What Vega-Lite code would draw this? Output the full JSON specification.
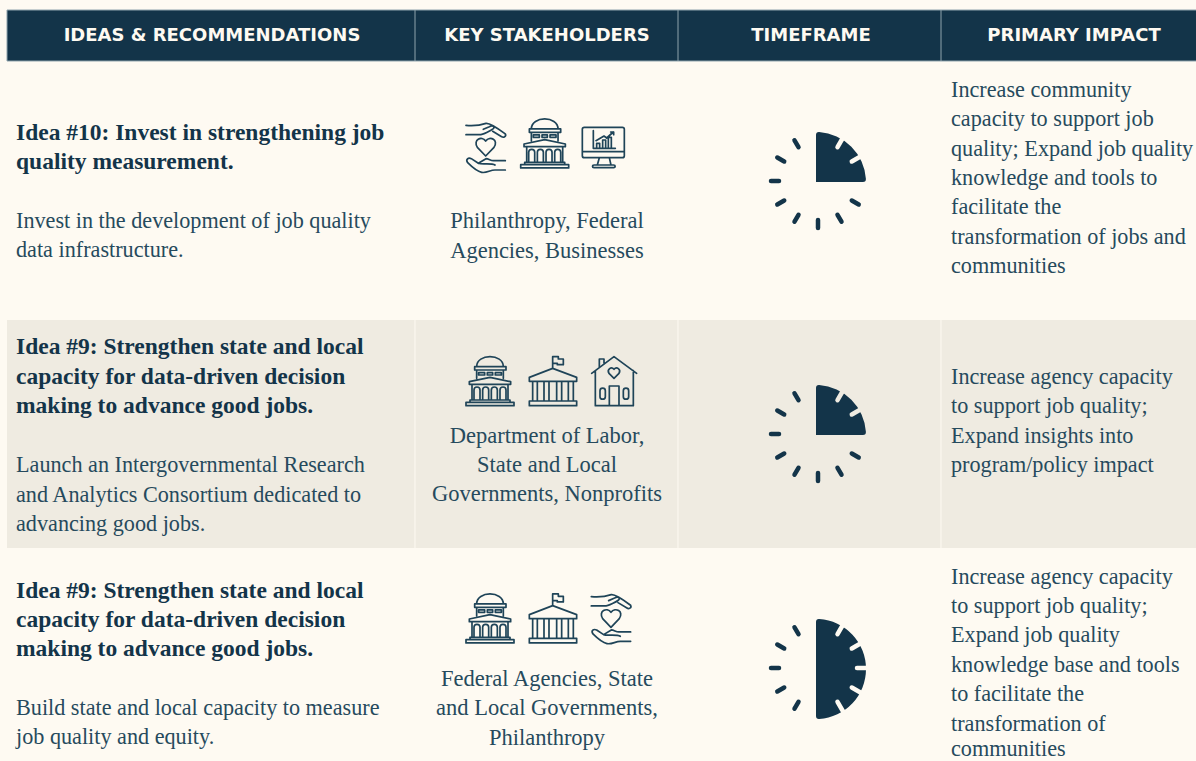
{
"$schema":"https://vega.github.io/schema/vega-lite/v6.json",
"width":1196,"height":761,"padding":0,"autosize":{"type":"none"},
"background":"#fefaf2","view":{"stroke":null},
"datasets":{
"cells":[
{"x":7,"x2":1196,"y":10,"y2":61,"tone":"ink"},
{"x":7,"x2":1196,"y":320,"y2":548,"tone":"shade"}
],
"grid":[
{"x":7,"x2":1196,"y":10,"y2":10,"tone":"edge"},
{"x":7,"x2":1196,"y":61,"y2":61,"tone":"edge"},
{"x":7,"x2":7,"y":10,"y2":61,"tone":"edge"},
{"x":415,"x2":415,"y":10,"y2":61,"tone":"edge"},
{"x":678,"x2":678,"y":10,"y2":61,"tone":"edge"},
{"x":941,"x2":941,"y":10,"y2":61,"tone":"edge"},
{"x":415,"x2":415,"y":320,"y2":548,"tone":"paper"},
{"x":678,"x2":678,"y":320,"y2":548,"tone":"paper"},
{"x":941,"x2":941,"y":320,"y2":548,"tone":"paper"}
],
"wedges":[
{"x":816,"y":182,"start":0,"end":90},
{"x":816,"y":435,"start":0,"end":90},
{"x":816,"y":669,"start":0,"end":180}
],
"ticks":[
{"x":851.8,"y":200.5,"x2":858.7,"y2":204.5,"tone":"ink"},
{"x":837.5,"y":214.8,"x2":841.5,"y2":221.7,"tone":"ink"},
{"x":818,"y":220,"x2":818,"y2":228,"tone":"ink"},
{"x":798.5,"y":214.8,"x2":794.5,"y2":221.7,"tone":"ink"},
{"x":784.2,"y":200.5,"x2":777.3,"y2":204.5,"tone":"ink"},
{"x":779,"y":181,"x2":771,"y2":181,"tone":"ink"},
{"x":784.2,"y":161.5,"x2":777.3,"y2":157.5,"tone":"ink"},
{"x":798.5,"y":147.2,"x2":794.5,"y2":140.3,"tone":"ink"},
{"x":837.5,"y":147.2,"x2":846,"y2":132.5,"tone":"paper"},
{"x":851.8,"y":161.5,"x2":866.5,"y2":153,"tone":"paper"},
{"x":851.8,"y":453.5,"x2":858.7,"y2":457.5,"tone":"ink"},
{"x":837.5,"y":467.8,"x2":841.5,"y2":474.7,"tone":"ink"},
{"x":818,"y":473,"x2":818,"y2":481,"tone":"ink"},
{"x":798.5,"y":467.8,"x2":794.5,"y2":474.7,"tone":"ink"},
{"x":784.2,"y":453.5,"x2":777.3,"y2":457.5,"tone":"ink"},
{"x":779,"y":434,"x2":771,"y2":434,"tone":"ink"},
{"x":784.2,"y":414.5,"x2":777.3,"y2":410.5,"tone":"ink"},
{"x":798.5,"y":400.2,"x2":794.5,"y2":393.3,"tone":"ink"},
{"x":837.5,"y":400.2,"x2":846,"y2":385.5,"tone":"shade"},
{"x":851.8,"y":414.5,"x2":866.5,"y2":406,"tone":"shade"},
{"x":798.5,"y":701.8,"x2":794.5,"y2":708.7,"tone":"ink"},
{"x":784.2,"y":687.5,"x2":777.3,"y2":691.5,"tone":"ink"},
{"x":779,"y":668,"x2":771,"y2":668,"tone":"ink"},
{"x":784.2,"y":648.5,"x2":777.3,"y2":644.5,"tone":"ink"},
{"x":798.5,"y":634.2,"x2":794.5,"y2":627.3,"tone":"ink"},
{"x":837.5,"y":634.2,"x2":846,"y2":619.5,"tone":"paper"},
{"x":851.8,"y":648.5,"x2":866.5,"y2":640,"tone":"paper"},
{"x":857,"y":668,"x2":874,"y2":668,"tone":"paper"},
{"x":851.8,"y":687.5,"x2":866.5,"y2":696,"tone":"paper"},
{"x":837.5,"y":701.8,"x2":846,"y2":716.5,"tone":"paper"}
],
"icons":[
{"icon":"hands","x":450,"y":110},
{"icon":"capitol","x":504.7,"y":112.3},
{"icon":"monitor","x":450,"y":110},
{"icon":"capitol","x":450,"y":350},
{"icon":"civic","x":450,"y":350},
{"icon":"house","x":450,"y":350},
{"icon":"capitol","x":450,"y":587.3},
{"icon":"civic","x":450,"y":587.3},
{"icon":"hands","x":575.3,"y":581.3}
],
"headers":[
{"x":212,"y":41,"text":"IDEAS & RECOMMENDATIONS"},
{"x":547,"y":41,"text":"KEY STAKEHOLDERS"},
{"x":811,"y":41,"text":"TIMEFRAME"},
{"x":1074,"y":41,"text":"PRIMARY IMPACT"}
],
"bold":[
{"x":16,"y":140,"text":"Idea #10: Invest in strengthening job"},
{"x":16,"y":169,"text":"quality measurement."},
{"x":16,"y":354,"text":"Idea #9: Strengthen state and local"},
{"x":16,"y":384,"text":"capacity for data-driven decision"},
{"x":16,"y":413,"text":"making to advance good jobs."},
{"x":16,"y":598,"text":"Idea #9: Strengthen state and local"},
{"x":16,"y":627,"text":"capacity for data-driven decision"},
{"x":16,"y":656,"text":"making to advance good jobs."}
],
"body":[
{"x":16,"y":228,"text":"Invest in the development of job quality"},
{"x":16,"y":257,"text":"data infrastructure."},
{"x":16,"y":472,"text":"Launch an Intergovernmental Research"},
{"x":16,"y":502,"text":"and Analytics Consortium dedicated to"},
{"x":16,"y":531,"text":"advancing good jobs."},
{"x":16,"y":715,"text":"Build state and local capacity to measure"},
{"x":16,"y":744,"text":"job quality and equity."},
{"x":951,"y":97,"text":"Increase community"},
{"x":951,"y":126,"text":"capacity to support job"},
{"x":951,"y":156,"text":"quality; Expand job quality"},
{"x":951,"y":185,"text":"knowledge and tools to"},
{"x":951,"y":214,"text":"facilitate the"},
{"x":951,"y":244,"text":"transformation of jobs and"},
{"x":951,"y":273,"text":"communities"},
{"x":951,"y":384,"text":"Increase agency capacity"},
{"x":951,"y":413,"text":"to support job quality;"},
{"x":951,"y":443,"text":"Expand insights into"},
{"x":951,"y":472,"text":"program/policy impact"},
{"x":951,"y":584,"text":"Increase agency capacity"},
{"x":951,"y":613,"text":"to support job quality;"},
{"x":951,"y":642,"text":"Expand job quality"},
{"x":951,"y":672,"text":"knowledge base and tools"},
{"x":951,"y":701,"text":"to facilitate the"},
{"x":951,"y":731,"text":"transformation of"},
{"x":951,"y":756,"text":"communities"}
],
"stake":[
{"x":547,"y":228,"text":"Philanthropy, Federal"},
{"x":547,"y":258,"text":"Agencies, Businesses"},
{"x":547,"y":443,"text":"Department of Labor,"},
{"x":547,"y":472,"text":"State and Local"},
{"x":547,"y":501,"text":"Governments, Nonprofits"},
{"x":547,"y":686,"text":"Federal Agencies, State"},
{"x":547,"y":715,"text":"and Local Governments,"},
{"x":547,"y":745,"text":"Philanthropy"}
]
},
"encoding":{
"x":{"field":"x","type":"quantitative","axis":null,"scale":{"domain":[0,1196],"nice":false,"zero":false}},
"y":{"field":"y","type":"quantitative","axis":null,"scale":{"domain":[761,0],"nice":false,"zero":false}}
},
"layer":[
{"data":{"name":"cells"},"mark":{"type":"rect"},
 "encoding":{"x2":{"field":"x2"},"y2":{"field":"y2"},
 "color":{"field":"tone","type":"nominal","legend":null,"scale":{"domain":["ink","shade","paper","edge"],"range":["#133449","#efebe1","#fefaf2","#8fa3ad"]}}}},
{"data":{"name":"grid"},"mark":{"type":"rule","strokeWidth":1},
 "encoding":{"x2":{"field":"x2"},"y2":{"field":"y2"},
 "color":{"field":"tone","type":"nominal","legend":null,"scale":{"domain":["ink","shade","paper","edge"],"range":["#133449","#efebe1","#fefaf2","#8fa3ad"]}}}},
{"data":{"name":"wedges"},"mark":{"type":"arc","radius":50,"cornerRadius":3,"fill":"#133449"},
 "encoding":{"theta":{"field":"start","type":"quantitative","stack":null,"scale":{"domain":[0,360]}},"theta2":{"field":"end"}}},
{"data":{"name":"ticks"},"mark":{"type":"rule","strokeWidth":4.5,"strokeCap":"round"},
 "encoding":{"x2":{"field":"x2"},"y2":{"field":"y2"},
 "color":{"field":"tone","type":"nominal","legend":null,"scale":{"domain":["ink","shade","paper","edge"],"range":["#133449","#efebe1","#fefaf2","#8fa3ad"]}}}},
{"data":{"name":"icons"},"mark":{"type":"point","filled":false,"size":0.4444,"stroke":"#1f4458","strokeWidth":1.7,"opacity":1,"strokeJoin":"round","strokeCap":"round"},
 "encoding":{"shape":{"field":"icon","type":"nominal","legend":null,"scale":{"domain":["capitol","civic","house","hands","monitor"],"range":[
 "M80,50C80,10 160,10 160,50M74,50H168V60H74ZM80,60V85M160,60V85M86,68H104V75H86ZM112,68H128V75H112ZM136,68H154V75H136ZM58,95L120,82L182,95V103H58ZM66,103V150M174,103V150M72,150V120C72,108 90,108 90,120V150M98,150V120C98,108 116,108 116,120V150M124,150V120C124,108 142,108 142,120V150M150,150V120C150,108 168,108 168,120V150M60,150H180V157H60ZM48,157H192V167H48Z",
 "M308,55V20H325V27H340V44H322V40H308M238,82L308,55L380,82V94H238ZM248,94V153M262,94V153M282,94V153M297,94V153M320,94V153M335,94V153M355,94V153M370,94V153M238,153H380V167H238Z",
 "M425,70L492,20L560,70M448,50V27H462V38M436,62V167H550V62M478,167V108H507V167M450,122C450,112 466,112 466,122V140C466,150 450,150 450,140ZM520,122C520,112 536,112 536,122V140C536,150 520,150 520,140ZM492,85L477,70C470,58 484,48 492,58C500,48 514,58 507,70Z",
 "M48,46C70,48 90,46 108,40C122,38 150,60 166,72C170,80 160,84 155,80L128,64M48,74H88C100,74 125,60 130,56C136,50 128,44 118,50L100,58M107,138L82,112C68,90 95,76 107,93C120,76 147,90 132,112ZM166,152H130C122,152 116,146 108,146L85,160M85,160C95,164 125,158 135,165M166,180H135C120,180 110,190 95,187C85,185 65,170 53,158C46,148 55,142 64,146L85,160",
 "M403,52H517C521,52 523,54 523,58V137C523,141 521,143 517,143H403C399,143 397,141 397,137V58C397,54 399,52 403,52ZM397,125H523M448,143L442,165M478,143L483,165M432,165H491C497,165 497,173 491,173H432C426,173 426,165 432,165ZM430,62V115H496M440,115V100H449V115M458,115V90H467V115M475,115V82H484V115M438,92L462,78L470,84L490,66M482,66H491V74"
 ]}}}},
{"data":{"name":"headers"},"mark":{"type":"text","font":"DejaVu Sans","fontWeight":"bold","fontSize":18,"align":"center","baseline":"alphabetic","fill":"#fefaf2"},
 "encoding":{"text":{"field":"text"}}},
{"data":{"name":"bold"},"mark":{"type":"text","font":"Liberation Serif","fontWeight":"bold","fontSize":23.5,"align":"left","baseline":"alphabetic","fill":"#133449"},
 "encoding":{"text":{"field":"text"}}},
{"data":{"name":"body"},"mark":{"type":"text","font":"Liberation Serif","fontSize":22.2,"align":"left","baseline":"alphabetic","fill":"#264a5d"},
 "encoding":{"text":{"field":"text"}}},
{"data":{"name":"stake"},"mark":{"type":"text","font":"Liberation Serif","fontSize":22.5,"align":"center","baseline":"alphabetic","fill":"#264a5d"},
 "encoding":{"text":{"field":"text"}}}
]
}
